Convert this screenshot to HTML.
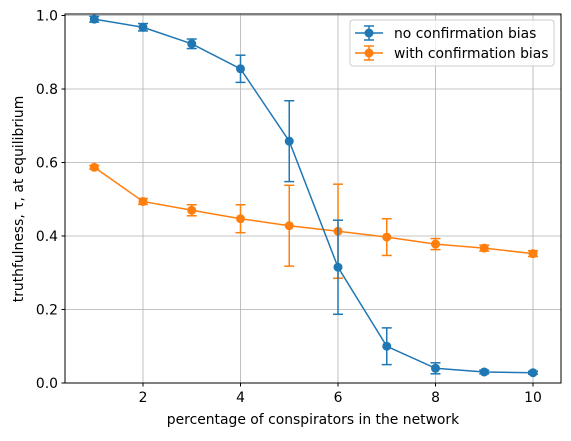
<!DOCTYPE html>
<html><head><meta charset="utf-8"><style>
body{margin:0;background:#fff}
svg{font-family:"DejaVu Sans","Liberation Sans",sans-serif}
</style></head><body>
<svg id="chart" width="571" height="436" xmlns="http://www.w3.org/2000/svg">
<g id="grid"></g>
<g id="series"></g>
<rect x="65" y="14" width="496" height="369" fill="none" stroke="#000" stroke-width="1"/>
<g id="ticks"></g>
<text x="313" y="424" font-size="13.9" text-anchor="middle">percentage of conspirators in the network</text>
<text transform="translate(23,199) rotate(-90)" font-size="13.9" text-anchor="middle">truthfulness, τ, at equilibrium</text>
<g>
<rect x="350" y="20" width="204" height="46" rx="3" fill="#fff" fill-opacity="0.8" stroke="#ccc"/>
<g>
<line x1="355" y1="33" x2="383" y2="33" stroke="#1f77b4" stroke-width="1.5"/>
<line x1="369" y1="26" x2="369" y2="40" stroke="#1f77b4" stroke-width="1.5"/>
<line x1="364" y1="26" x2="374" y2="26" stroke="#1f77b4" stroke-width="1.5"/>
<line x1="364" y1="40" x2="374" y2="40" stroke="#1f77b4" stroke-width="1.5"/>
<circle cx="369" cy="33" r="4.5" fill="#1f77b4"/>
<text x="394" y="38" font-size="13.9">no confirmation bias</text></g>
<g>
<line x1="355" y1="53" x2="383" y2="53" stroke="#ff7f0e" stroke-width="1.5"/>
<line x1="369" y1="46" x2="369" y2="60" stroke="#ff7f0e" stroke-width="1.5"/>
<line x1="364" y1="46" x2="374" y2="46" stroke="#ff7f0e" stroke-width="1.5"/>
<line x1="364" y1="60" x2="374" y2="60" stroke="#ff7f0e" stroke-width="1.5"/>
<circle cx="369" cy="53" r="4.5" fill="#ff7f0e"/>
<text x="394" y="58" font-size="13.9">with confirmation bias</text></g>
</g>
</svg>
<script>
const xs=[1,2,3,4,5,6,7,8,9,10];
const noBias=[0.990,0.968,0.923,0.855,0.658,0.315,0.100,0.040,0.030,0.028];
const noBiasErr=[0.008,0.010,0.013,0.037,0.110,0.128,0.050,0.015,0.005,0.004];
const withBias=[0.587,0.494,0.470,0.447,0.428,0.413,0.397,0.378,0.367,0.352];
const withBiasErr=[0.005,0.008,0.015,0.038,0.110,0.128,0.050,0.015,0.008,0.008];
const xTicks=[2,4,6,8,10];
const yTicks=[0.0,0.2,0.4,0.6,0.8,1.0];
const NS="http://www.w3.org/2000/svg";
function X(v){return 143+(v-2)*48.75;}
function Y(v){return 383-v*367.5;}
function mk(tag,attrs,parent){const e=document.createElementNS(NS,tag);for(const k in attrs)e.setAttribute(k,attrs[k]);parent.appendChild(e);return e;}
const grid=document.getElementById('grid'),ticks=document.getElementById('ticks'),ser=document.getElementById('series');
xTicks.forEach(t=>{
 const g=mk('line',{x1:X(t),x2:X(t),y1:14,y2:383,stroke:'#b0b0b0','stroke-width':0.8},grid);
 
 
 mk('line',{x1:X(t),x2:X(t),y1:383,y2:386.5,stroke:'#000'},ticks);
 const l=mk('text',{x:X(t),y:402,'font-size':13.9,'text-anchor':'middle'},ticks);l.textContent=t;
 
 
});
yTicks.forEach(t=>{
 const g=mk('line',{x1:65,x2:561,y1:Y(t),y2:Y(t),stroke:'#b0b0b0','stroke-width':0.8},grid);
 
 
 mk('line',{x1:61.5,x2:65,y1:Y(t),y2:Y(t),stroke:'#000'},ticks);
 const l=mk('text',{x:58,y:Y(t)+5,'font-size':13.9,'text-anchor':'end'},ticks);l.textContent=t.toFixed(1);
 
 
});
function draw(vals,errs,color,name){
 const g=mk('g',{},ser);
 
 
 const p=mk('polyline',{points:xs.map((x,i)=>X(x)+','+Y(vals[i])).join(' '),fill:'none',stroke:color,'stroke-width':1.5},g);
 
 
 xs.forEach((x,i)=>{
  const cx=X(x),t=Y(vals[i]+errs[i]),b=Y(vals[i]-errs[i]);
  mk('line',{x1:cx,x2:cx,y1:t,y2:b,stroke:color,'stroke-width':1.5},g);
  mk('line',{x1:cx-5,x2:cx+5,y1:t,y2:t,stroke:color,'stroke-width':1.5},g);
  mk('line',{x1:cx-5,x2:cx+5,y1:b,y2:b,stroke:color,'stroke-width':1.5},g);
  const c=mk('circle',{cx:cx,cy:Y(vals[i]),r:4.5,fill:color},g);
  
  
 });
}
draw(withBias,withBiasErr,'#ff7f0e','with-bias-series');
draw(noBias,noBiasErr,'#1f77b4','no-bias-series');
</script>
</body></html>
